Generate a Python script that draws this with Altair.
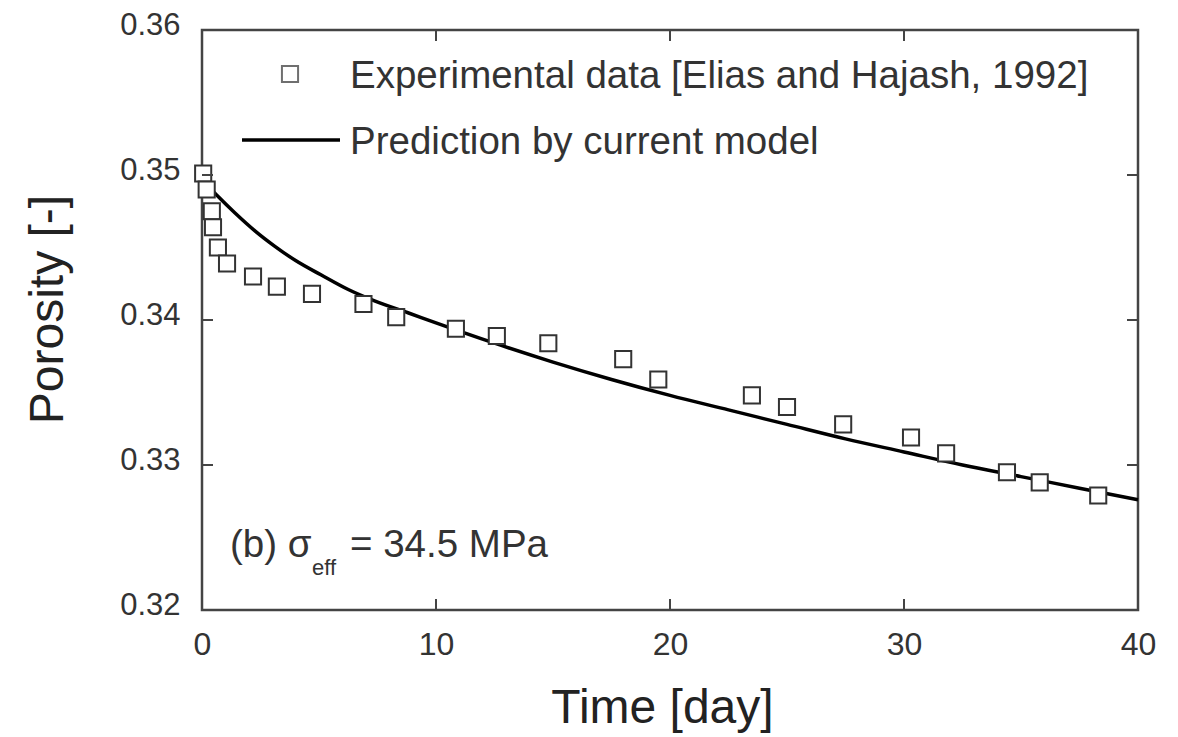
import altair as alt
import pandas as pd

# ---- data ----
exp_time = [0.05, 0.2, 0.42, 0.47, 0.68, 1.07, 2.18, 3.2, 4.7, 6.9, 8.3, 10.85, 12.6,
            14.8, 18.0, 19.5, 23.5, 25.0, 27.4, 30.3, 31.8, 34.4, 35.8, 38.3]
exp_por = [0.3501, 0.3490, 0.3475, 0.3464, 0.3450, 0.3439, 0.3430, 0.3423, 0.3418,
           0.3411, 0.3402, 0.3394, 0.3389, 0.3384, 0.3373, 0.3359, 0.3348, 0.3340,
           0.3328, 0.3319, 0.3308, 0.3295, 0.3288, 0.3279]

model_time = [0.4, 0.7, 1.4, 2.3, 3.1, 4.0, 5.1, 6.25, 7.4, 8.8, 10, 12.5, 15, 17.5, 20,
              22.5, 25, 27.5, 30, 32.5, 35, 37.5, 40]
model_por = [0.3490, 0.3485, 0.3474, 0.3461, 0.3451, 0.3441, 0.3431, 0.3421, 0.3413,
             0.3405, 0.3398, 0.3384, 0.3371, 0.3359, 0.3348, 0.3338, 0.3328, 0.3318,
             0.3309, 0.3300, 0.3292, 0.3284, 0.3276]

x_ticks = [0, 10, 20, 30, 40]
y_ticks = [0.32, 0.33, 0.34, 0.35, 0.36]

legend_labels = ["Experimental data [Elias and Hajash, 1992]", "Prediction by current model"]
annotation_parts = ["(b) σ", "eff", "= 34.5 MPa"]

x_title = "Time [day]"
y_title = "Porosity [-]"

# ---- layout / style ----
W, H = 936, 580
FONT = "Liberation Sans"
TXT = "#333333"
BIG = 38.5

exp_df = pd.DataFrame({"t": exp_time, "p": exp_por})
model_df = pd.DataFrame({"t": model_time, "p": model_por})
xt_df = pd.DataFrame({"v": x_ticks})
yt_df = pd.DataFrame({"v": y_ticks})

xscale = alt.Scale(domain=[0, 40], nice=False, zero=False)
yscale = alt.Scale(domain=[0.32, 0.36], nice=False, zero=False)

xaxis = alt.Axis(values=x_ticks, format="d", ticks=False, domain=False, grid=False,
                 labelFont=FONT, labelFontSize=32, labelColor=TXT, labelPadding=19,
                 labelFlush=False,
                 title=x_title, titleFont=FONT, titleFontSize=48, titleFontWeight="normal",
                 titleColor="#222222", titleX=460, titleY=112, titleBaseline="alphabetic",
                 titleAnchor="middle")
yaxis = alt.Axis(values=y_ticks, format=".2f", ticks=False, domain=False, grid=False,
                 labelFont=FONT, labelFontSize=31, labelColor=TXT, labelPadding=22,
                 labelOffset=-5, labelFlush=False,
                 title=y_title, titleFont=FONT, titleFontSize=48, titleFontWeight="normal",
                 titleColor="#222222", titleX=-140, titleY=279, titleBaseline="alphabetic",
                 titleAngle=270)

line = alt.Chart(model_df).mark_line(color="black", strokeWidth=3.5, interpolate="monotone").encode(
    x=alt.X("t:Q", scale=xscale, axis=xaxis),
    y=alt.Y("p:Q", scale=yscale, axis=yaxis),
)

pts = alt.Chart(exp_df).mark_square(size=260, filled=True, fill="white", stroke="#333333",
                                    strokeWidth=2, opacity=1).encode(
    x=alt.X("t:Q", scale=xscale),
    y=alt.Y("p:Q", scale=yscale),
)

tick_style = dict(color="#444444", strokeWidth=2)
yt_left = alt.Chart(yt_df).mark_rule(**tick_style).encode(
    y=alt.Y("v:Q", scale=yscale), x=alt.value(0), x2=alt.value(11))
yt_right = alt.Chart(yt_df).mark_rule(**tick_style).encode(
    y=alt.Y("v:Q", scale=yscale), x=alt.value(W), x2=alt.value(W - 11))
xt_bot = alt.Chart(xt_df).mark_rule(**tick_style).encode(
    x=alt.X("v:Q", scale=xscale), y=alt.value(H), y2=alt.value(H - 11))
xt_top = alt.Chart(xt_df).mark_rule(**tick_style).encode(
    x=alt.X("v:Q", scale=xscale), y=alt.value(0), y2=alt.value(11))

one = pd.DataFrame({"k": [0]})
leg_sq = alt.Chart(one).mark_square(size=260, filled=True, fill="white", stroke="#333333",
                                    strokeWidth=2).encode(x=alt.value(88), y=alt.value(44))
leg_t1 = alt.Chart(one).mark_text(text=legend_labels[0], font=FONT, fontSize=BIG, color=TXT,
                                  align="left", baseline="alphabetic").encode(
    x=alt.value(148), y=alt.value(58))
leg_ln = alt.Chart(one).mark_rule(color="black", strokeWidth=3.5).encode(
    x=alt.value(40), x2=alt.value(138), y=alt.value(110))
leg_t2 = alt.Chart(one).mark_text(text=legend_labels[1], font=FONT, fontSize=BIG, color=TXT,
                                  align="left", baseline="alphabetic").encode(
    x=alt.value(148), y=alt.value(124))

ann1 = alt.Chart(one).mark_text(text=annotation_parts[0], font=FONT, fontSize=BIG, color=TXT,
                                align="left", baseline="alphabetic").encode(
    x=alt.value(28), y=alt.value(527))
ann2 = alt.Chart(one).mark_text(text=annotation_parts[1], font=FONT, fontSize=22, color=TXT,
                                align="left", baseline="alphabetic").encode(
    x=alt.value(110), y=alt.value(545))
ann3 = alt.Chart(one).mark_text(text=annotation_parts[2], font=FONT, fontSize=BIG, color=TXT,
                                align="left", baseline="alphabetic").encode(
    x=alt.value(148), y=alt.value(527))

chart = alt.layer(
    line, pts, yt_left, yt_right, xt_bot, xt_top,
    leg_sq, leg_t1, leg_ln, leg_t2, ann1, ann2, ann3,
).properties(
    width=W, height=H,
    padding={"left": 194, "top": 22, "right": 30, "bottom": 126},
    autosize=alt.AutoSizeParams(type="none"),
    background="white",
).configure_view(
    stroke="#444444", strokeWidth=2.5,
)

chart.save("out.html", embed_options={"renderer": "svg", "actions": False})
